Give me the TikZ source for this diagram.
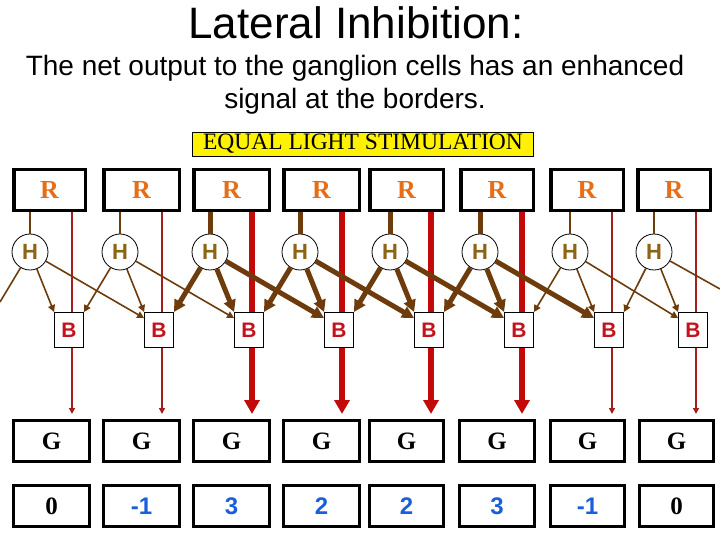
\documentclass[tikz,border=0pt]{standalone}
\usepackage{fontspec}
\setmainfont{Liberation Sans}
\newfontfamily\tnr{Liberation Serif}
\usetikzlibrary{arrows.meta,calc,backgrounds}
\definecolor{rorange}{RGB}{230,110,25}
\definecolor{htext}{RGB}{140,100,20}
\definecolor{btext}{RGB}{195,20,30}
\definecolor{nblue}{RGB}{25,95,220}
\definecolor{brn}{RGB}{110,60,12}
\definecolor{redthk}{RGB}{195,10,10}
\definecolor{redthn}{RGB}{165,30,30}
\begin{document}
\begin{tikzpicture}[x=1pt,y=-1pt,
  rbox/.style={draw=black,line width=3.5pt,fill=white,minimum height=41pt,inner sep=0pt,
    font=\tnr\bfseries\fontsize{26}{26}\selectfont,text=rorange},
  gbox/.style={draw=black,line width=3pt,fill=white,minimum height=41pt,inner sep=0pt,
    font=\tnr\bfseries\fontsize{25}{25}\selectfont,text=black},
  nbox/.style={draw=black,line width=3pt,fill=white,minimum height=41pt,inner sep=0pt},
  nzero/.style={font=\tnr\bfseries\fontsize{25}{25}\selectfont,text=black},
  nblu/.style={font=\bfseries\fontsize{24}{24}\selectfont,text=nblue},
  hcirc/.style={circle,draw=black,line width=0.8pt,fill=white,minimum size=36pt,inner sep=0pt,
    font=\bfseries\fontsize{22}{22}\selectfont,text=htext},
  bbox/.style={draw=black,line width=0.8pt,fill=white,minimum width=29pt,minimum height=35pt,inner sep=0pt,
    font=\bfseries\fontsize{21}{21}\selectfont,text=btext},
  linethin/.style={draw=brn,line width=1.6pt},
  linethick/.style={draw=brn,line width=5pt},
  arrthin/.style={linethin,-{Triangle[length=7pt,width=7pt]}},
  arrthick/.style={linethick,-{Triangle[length=12pt,width=12pt]}},
  redthin/.style={draw=redthn,line width=1.8pt,-{Triangle[length=6pt,width=6pt]}},
  redthick/.style={draw=redthk,line width=5.5pt,-{Triangle[length=14pt,width=15pt]}},
  equal/.style={draw=black,line width=0.6pt,fill=yellow,minimum width=341pt,minimum height=24pt,inner sep=0pt,
    font=\tnr\fontsize{23.5}{23.5}\selectfont}
]
\useasboundingbox (0,0) rectangle (720,540);

\node (title) at (356,23) {\fontsize{44}{44}\selectfont Lateral Inhibition:};
\node (sub) at (355,85) [align=center,font=\fontsize{28}{33}\selectfont]
  {The net output to the ganglion cells has an enhanced\\signal at the borders.};
\node[equal] (eq) at (363,144) {EQUAL LIGHT STIMULATION};

\foreach \i/\rl/\rr/\gl/\gr/\hx/\bl/\rx/\st/\nm/\ns in {
  1/12/87/12/91/30/54/72/thin/0/nzero,
  2/102/181/102/181/120/144/162/thin/-1/nblu,
  3/192/271/192/271/210/234/252/thick/3/nblu,
  4/282/361/282/361/300/324/342/thick/2/nblu,
  5/368/445/368/445/390/414/431/thick/2/nblu,
  6/459/535/458/536/480/504/522/thick/3/nblu,
  7/549/625/549/626/570/594/612/thin/-1/nblu,
  8/636/712/638/715/654/678/696/thin/0/nzero}{
  \pgfmathsetmacro\rw{\rr-\rl-3.5}
  \pgfmathsetmacro\rc{(\rr+\rl)/2}
  \pgfmathsetmacro\gw{\gr-\gl-3}
  \pgfmathsetmacro\gc{(\gr+\gl)/2}
  \pgfmathsetmacro\bc{\bl+15}
  \node[rbox,minimum width=\rw pt] (R\i) at (\rc,190) {R};
  \node[gbox,minimum width=\gw pt] (G\i) at (\gc,441) {G};
  \node[nbox,minimum width=\gw pt,\ns] (N\i) at (\gc,506) {\nm};
  \node[hcirc] (H\i) at (\hx,252) {H};
  \node[bbox] (B\i) at (\bc,330) {B};
  \coordinate (T\i) at (\rx,414);
  \begin{scope}[on background layer]
    \draw[red\st] (R\i.south -| T\i) -- (T\i);
  \end{scope}
  \draw[line\st] (R\i.south -| H\i) -- (H\i);
}

\coordinate (L0) at (0,302);
\coordinate (R9) at (720,289);
\draw[linethin] (H1) -- (L0);
\draw[linethin] (H8) -- (R9);

\foreach \i/\st in {2/thin,3/thick,4/thick,5/thick,6/thick,7/thin,8/thin}{
  \pgfmathtruncatemacro\px{\i-1}
  \draw[arr\st] (H\i) -- (B\px.north east);
}
\foreach \i/\st in {1/thin,2/thin,3/thick,4/thick,5/thick,6/thick,7/thin,8/thin}{
  \draw[arr\st] (H\i) -- (B\i.north west);
}
\foreach \i/\st in {1/thin,2/thin,3/thick,4/thick,5/thick,6/thick,7/thin}{
  \pgfmathtruncatemacro\nx{\i+1}
  \draw[arr\st] (H\i) -- ($(B\nx.north west)+(0,6)$);
}
\end{tikzpicture}
\end{document}
